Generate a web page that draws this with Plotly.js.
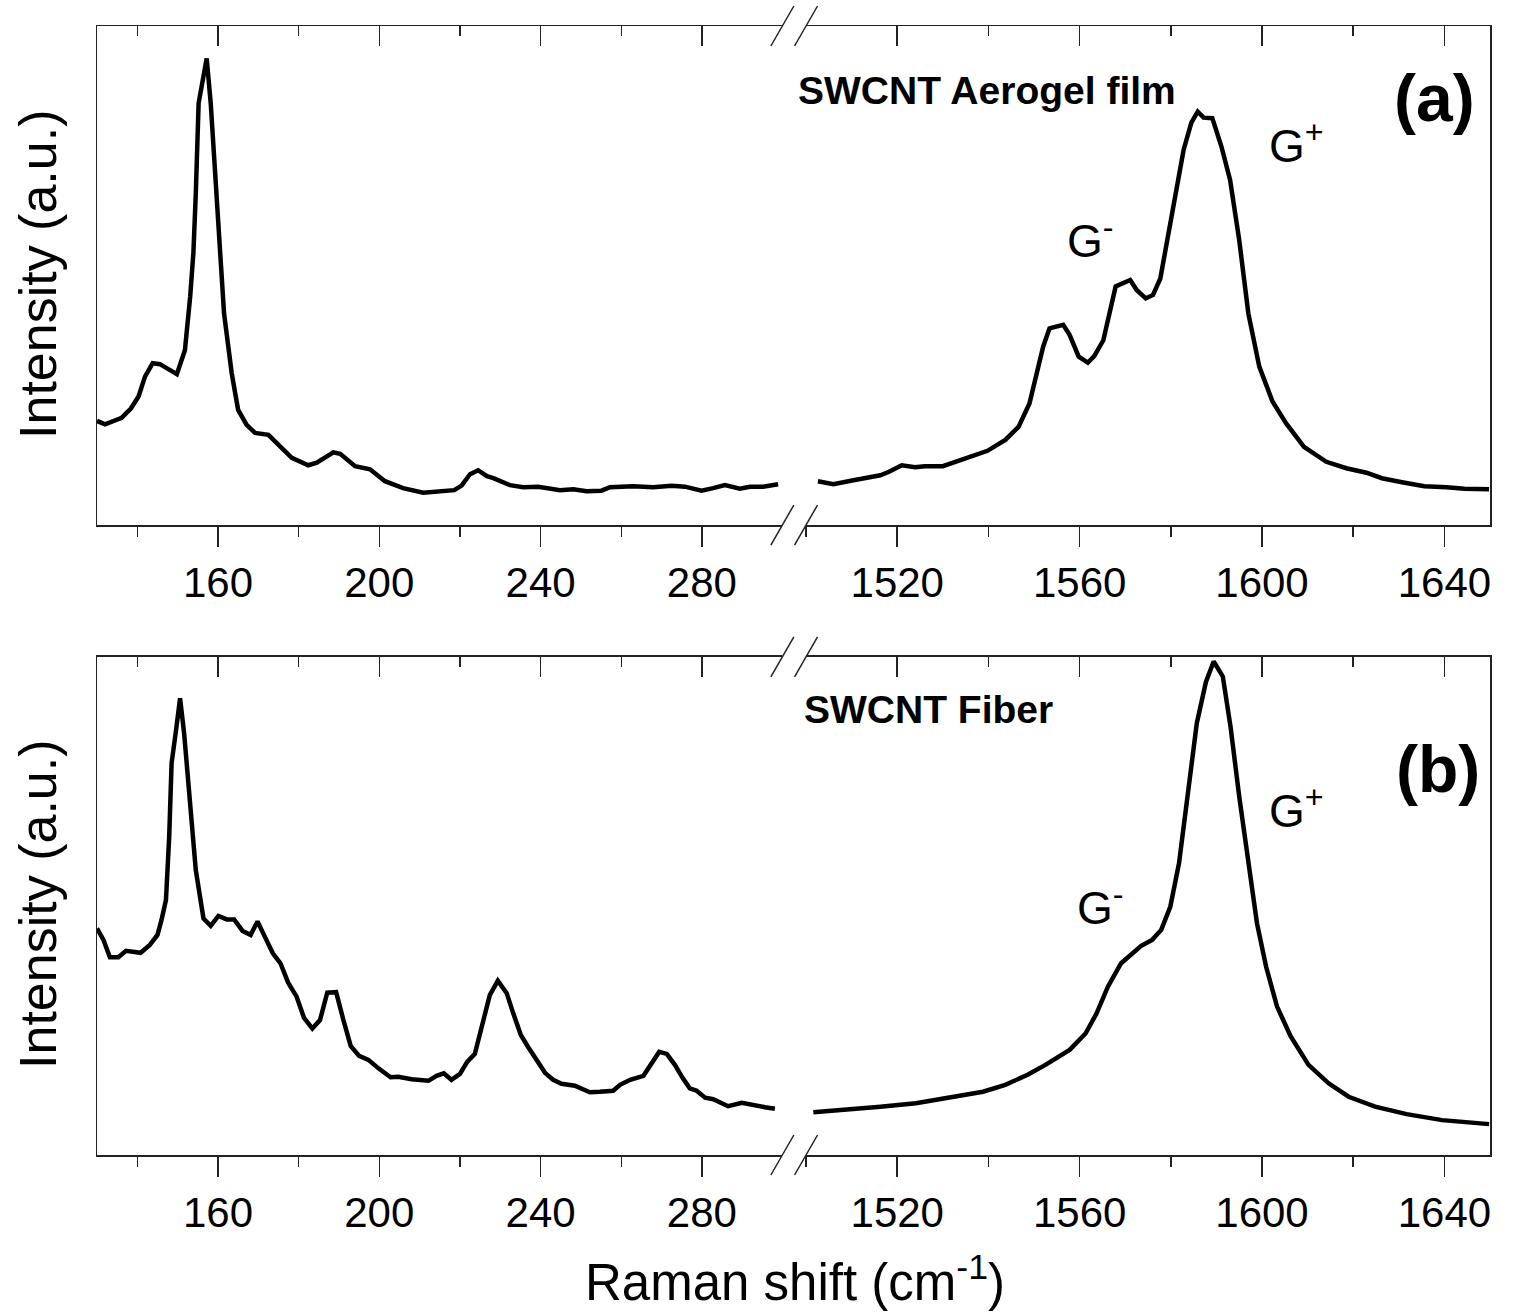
<!DOCTYPE html>
<html>
<head>
<meta charset="utf-8">
<script src="https://cdn.plot.ly/plotly-3.0.1.min.js"></script>
<style>html,body{margin:0;padding:0;background:#fff;}#chart{width:1520px;height:1316px;}</style>
</head>
<body>
<div id="chart"></div>
<script>
// ---- Data (wavenumber in cm^-1, intensity in arbitrary units) ----
const wnA_low = [130,132,136.1,138.4,140.3,141.9,143.8,145.6,149.8,151.8,153.1,153.9,154.5,155.2,157.2,158.2,159.3,160.5,161.5,163.4,165.0,167.1,169.2,172.5,175.4,178.3,182.4,184.5,188.6,190.3,194.0,197.7,201.4,205.9,210.9,215.0,218.6,220.4,222.5,224.5,226.7,228.3,232.4,235.7,239.4,244.8,248.1,251.4,255.1,257.2,263.0,267.9,272.5,275.8,279.9,282.8,285.7,289.4,291.9,295.2,298.9];
const intA_low = [20.5,19.8,21.1,23.0,25.4,29.4,32.1,31.9,29.9,34.7,45.4,54.2,66.2,84.3,93.3,84.3,70.2,54.2,42.1,30.1,22.7,19.7,18.1,17.7,15.5,13.1,11.6,12.1,14.2,13.9,11.4,10.8,8.4,7.0,6.1,6.3,6.6,7.5,9.8,10.6,9.4,9.0,7.6,7.2,7.3,6.6,6.8,6.4,6.5,7.2,7.4,7.2,7.5,7.3,6.5,7.0,7.6,6.9,7.3,7.3,7.8];

const wnA_high = [1502.6,1506.0,1510.4,1516.3,1518.2,1521.0,1523.9,1526.1,1530.0,1533.9,1537.3,1539.8,1543.7,1546.6,1549.0,1550.5,1552.0,1553.4,1556.4,1557.8,1559.8,1561.8,1563.2,1565.2,1566.6,1567.9,1571.1,1572.5,1574.5,1576.1,1577.7,1579.4,1581.3,1582.8,1584.5,1585.9,1587.2,1589.1,1591.1,1593.0,1595.0,1597.0,1599.4,1602.3,1605.3,1609.2,1614.1,1618.5,1622.9,1626.3,1630.7,1635.6,1640.5,1644.4,1649.8];
const intA_high = [8.4,7.8,8.6,9.6,10.3,11.6,11.2,11.4,11.4,12.7,13.9,14.5,16.7,19.3,24.0,30.1,35.4,39.1,39.8,37.8,33.4,32.2,33.5,36.7,42.1,47.5,48.8,46.8,45.1,45.8,49.1,57.5,67.5,74.9,80.4,82.6,81.4,81.3,75.6,68.9,56.8,42.1,31.4,24.4,20.0,15.3,12.3,11.0,10.1,9.0,8.2,7.4,7.2,6.9,6.8];

const wnB_low = [130,131.6,133.2,135.3,137.2,139.0,140.8,143.1,145.0,146.0,147.1,147.9,148.5,149.6,150.6,151.6,153.1,154.5,156.4,158.2,160.1,162.2,164.0,166.1,168.1,169.8,171.7,173.6,175.5,177.4,179.5,181.3,183.4,185.3,187.1,189.3,191.1,192.9,195.0,197.3,199.8,202.8,204.7,208.0,212.2,214.2,216.0,217.9,220.0,221.8,223.7,225.6,227.4,229.4,231.6,233.2,235.1,236.9,239.0,241.1,243.1,245.2,248.5,252.2,254.7,258.0,259.7,262.2,265.5,267.5,269.4,271.3,273.3,275.2,277.0,278.7,280.8,282.8,284.5,286.5,289.9,292.7,295.6,298.1];
const intB_low = [45.5,43.2,39.7,39.7,41.0,40.8,40.6,42.2,44.2,47.2,51.2,63.9,78.7,85.3,91.7,84.7,70.6,57.2,47.5,46.0,48.0,47.3,47.3,45.0,44.2,46.9,43.7,40.5,38.5,34.6,31.8,27.6,25.4,27.1,32.6,32.7,27.1,21.9,19.9,19.1,17.4,15.6,15.7,15.2,14.9,15.9,16.4,15.1,16.3,18.7,20.3,26.8,32.1,35.0,32.5,28.5,24.1,21.7,19.1,16.5,15.1,14.3,13.9,12.6,12.7,12.9,14.1,15.1,15.9,18.4,20.7,20.3,18.1,15.5,13.4,12.9,11.5,11.2,10.5,9.8,10.5,10.0,9.6,9.3];

const wnB_high = [1501.6,1504.4,1508.5,1516.3,1524.1,1531.9,1538.8,1543.7,1548.6,1552.5,1557.8,1561.3,1563.7,1566.2,1569.1,1573.5,1575.9,1577.9,1579.9,1581.8,1583.8,1585.7,1587.7,1589.4,1591.4,1593.1,1595.0,1597.0,1598.9,1600.9,1603.3,1606.3,1610.2,1614.6,1619.0,1624.8,1631.7,1639.5,1649.8];
const intB_high = [8.6,8.8,9.0,9.7,10.4,11.5,12.7,14.1,16.1,18.1,21.1,24.4,28.4,33.8,38.5,42.0,43.2,45.2,49.9,58.6,73.3,86.7,95.0,99.1,96.1,86.0,72.0,58.6,46.5,37.8,29.8,23.8,18.1,14.4,11.7,9.7,8.2,7.0,6.2];

// Axis settings (labels / ranges)
const lowRange = [130, 299.95];
const highRange = [1500, 1650];
const yRangeA = [-0.4, 99.8];
const yRangeB = [0, 100];
const yTitle = 'Intensity (a.u.)';
const xTitle = 'Raman shift (cm<sup>-1</sup>)';

// ---- Styling ----
const FONT = 'Liberation Sans, Arial, Helvetica, sans-serif';
const LINEC = '#222';
const dataLine = {color: '#000', width: 4.5};

const domLow = [0, 0.492], domHigh = [0.509, 1];
const domA = [0.558, 1], domB = [0, 0.4411];

function xAx(domain, range, anchor) {
  return {
    domain: domain, range: range, anchor: anchor,
    showgrid: false, zeroline: false,
    showline: true, mirror: true, linecolor: LINEC, linewidth: 1.5,
    ticks: 'outside', ticklen: 20, tickwidth: 1.5, tickcolor: LINEC,
    tick0: 0, dtick: 40,
    minor: {tick0: 0, dtick: 20, ticks: 'outside', ticklen: 10, tickwidth: 1.5, tickcolor: LINEC, showgrid: false},
    tickfont: {family: FONT, size: 42, color: '#000'},
    fixedrange: true
  };
}
function xTop(over, range, anchor) {
  return {
    overlaying: over, side: 'top', range: range, anchor: anchor,
    showgrid: false, zeroline: false, showline: false, showticklabels: false,
    ticks: 'inside', ticklen: 20, tickwidth: 1.5, tickcolor: LINEC,
    tick0: 0, dtick: 40,
    minor: {tick0: 0, dtick: 20, ticks: 'inside', ticklen: 10, tickwidth: 1.5, tickcolor: LINEC, showgrid: false},
    fixedrange: true
  };
}
function yAx(domain, range, anchor, side) {
  return {
    domain: domain, range: range, anchor: anchor, side: side,
    showgrid: false, zeroline: false, showline: true, linecolor: LINEC, linewidth: 1.5,
    ticks: '', showticklabels: false, fixedrange: true
  };
}

const traces = [
  {x: wnA_low, y: intA_low, xaxis: 'x', yaxis: 'y', mode: 'lines', line: dataLine, name: 'Aerogel low'},
  {x: wnA_high, y: intA_high, xaxis: 'x2', yaxis: 'y3', mode: 'lines', line: dataLine, name: 'Aerogel G'},
  {x: wnB_low, y: intB_low, xaxis: 'x3', yaxis: 'y2', mode: 'lines', line: dataLine, name: 'Fiber low'},
  {x: wnB_high, y: intB_high, xaxis: 'x4', yaxis: 'y4', mode: 'lines', line: dataLine, name: 'Fiber G'},
  // empty carriers so the top (inward) tick axes are drawn
  {x: [], y: [], xaxis: 'x5', yaxis: 'y', mode: 'lines', hoverinfo: 'skip'},
  {x: [], y: [], xaxis: 'x6', yaxis: 'y3', mode: 'lines', hoverinfo: 'skip'},
  {x: [], y: [], xaxis: 'x7', yaxis: 'y2', mode: 'lines', hoverinfo: 'skip'},
  {x: [], y: [], xaxis: 'x8', yaxis: 'y4', mode: 'lines', hoverinfo: 'skip'}
];

// break marks (paper positions at segment ends)
function slash(xp, yp) {
  return {type: 'line', xref: 'paper', yref: 'paper', xsizemode: 'pixel', ysizemode: 'pixel',
          xanchor: xp, yanchor: yp, x0: -11.5, x1: 11.5, y0: -20, y1: 20,
          line: {color: LINEC, width: 1.5}, layer: 'above'};
}
const shapes = [];
[domA, domB].forEach(d => {
  [d[0], d[1]].forEach(yp => {
    shapes.push(slash(domLow[1], yp));
    shapes.push(slash(domHigh[0], yp));
  });
});

function ann(text, x, y, size, xanchor, extra) {
  return Object.assign({text: text, x: x, y: y, xref: 'paper', yref: 'paper', showarrow: false,
          xanchor: xanchor || 'center', yanchor: 'middle',
          font: {family: FONT, size: size, color: '#000'}}, extra || {});
}

const annotations = [
  ann('<b>SWCNT Aerogel film</b>', 0.6389, 0.9425, 39),
  ann('<b>(a)</b>', 0.9598, 0.9362, 66),
  ann('G<sup>+</sup>', 0.8400, 0.8964, 46, 'left'),
  ann('G<sup>-</sup>', 0.6950, 0.8122, 46, 'left'),
  ann('<b>SWCNT Fiber</b>', 0.5966, 0.3950, 39),
  ann('<b>(b)</b>', 0.9627, 0.3419, 66),
  ann('G<sup>+</sup>', 0.8400, 0.3073, 46, 'left'),
  ann('G<sup>-</sup>', 0.7020, 0.2214, 46, 'left'),
  ann(yTitle, -0.0424, 0.7803, 52, 'center', {textangle: -90}),
  ann(yTitle, -0.0424, 0.2223, 52, 'center', {textangle: -90}),
  ann(xTitle, 0.501, -0.1098, 51)
];

const layout = {
  width: 1520, height: 1316,
  margin: {l: 97, r: 30, t: 26, b: 161},
  paper_bgcolor: '#fff', plot_bgcolor: 'rgba(0,0,0,0)',
  showlegend: false,
  font: {family: FONT, color: '#000'},
  xaxis: xAx(domLow, lowRange, 'y'),
  xaxis2: xAx(domHigh, highRange, 'y3'),
  xaxis3: xAx(domLow, lowRange, 'y2'),
  xaxis4: xAx(domHigh, highRange, 'y4'),
  xaxis5: xTop('x', lowRange, 'y'),
  xaxis6: xTop('x2', highRange, 'y3'),
  xaxis7: xTop('x3', lowRange, 'y2'),
  xaxis8: xTop('x4', highRange, 'y4'),
  yaxis: yAx(domA, yRangeA, 'x', 'left'),
  yaxis3: yAx(domA, yRangeA, 'x2', 'right'),
  yaxis2: yAx(domB, yRangeB, 'x3', 'left'),
  yaxis4: yAx(domB, yRangeB, 'x4', 'right'),
  shapes: shapes,
  annotations: annotations
};

Plotly.newPlot('chart', traces, layout, {staticPlot: true, displayModeBar: false});
</script>
</body>
</html>
